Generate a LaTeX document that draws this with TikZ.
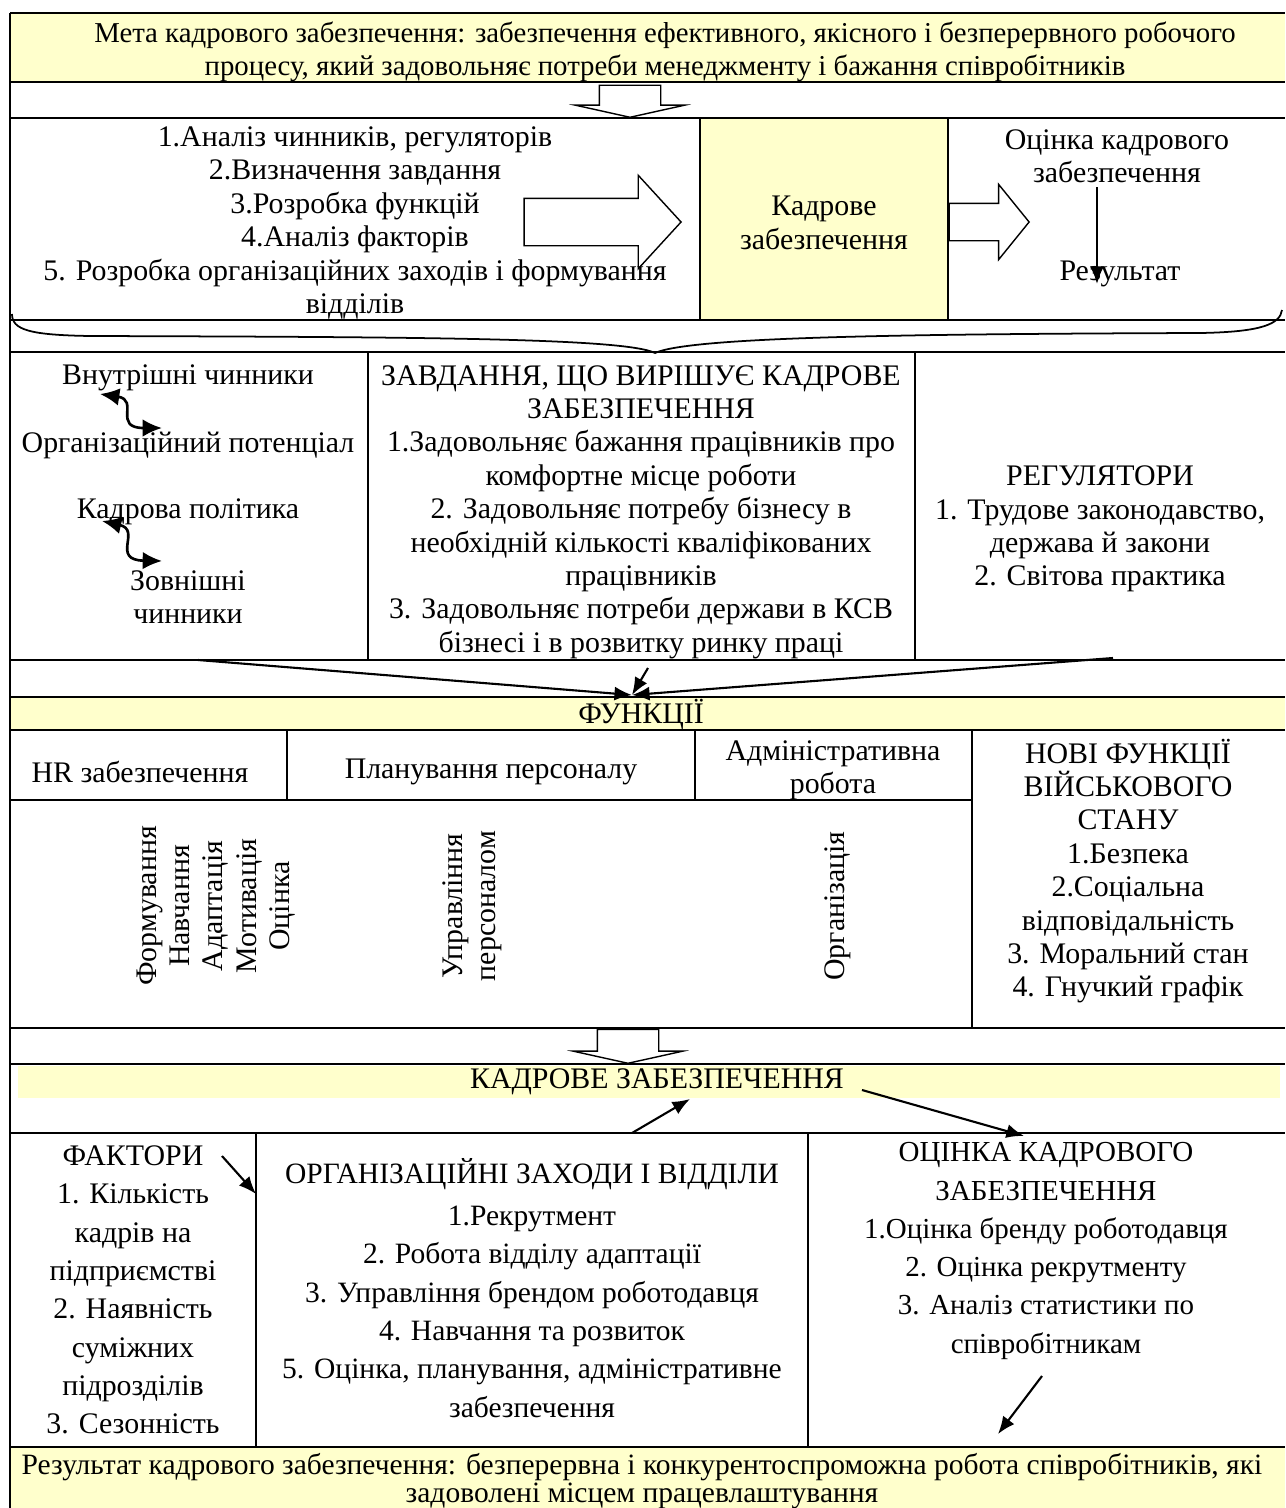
\documentclass[tikz,border=0pt]{standalone}
\usepackage{fontspec}
\setmainfont{Liberation Serif}
\usetikzlibrary{arrows.meta,shapes.arrows,positioning}
\definecolor{paleyellow}{HTML}{FFFFCC}

\begin{document}
\begin{tikzpicture}[x=0.02cm,y=-0.02cm]
    \tikzset{
      cell/.style={align=center,inner sep=0pt,font=\fontsize{17}{19}\selectfont},
      widecell/.style={align=center,inner sep=0pt,font=\fontsize{16.8}{21.8}\selectfont},
      frame/.style={line width=1.5pt},
      link/.style={line width=1.2pt,-{Latex[length=10pt,width=8pt]}},
      twolink/.style={line width=1.5pt,{Latex[length=11pt,width=10pt]}-{Latex[length=11pt,width=10pt]}},
      hollow/.style={single arrow,draw,fill=white,line width=0.8pt,
        inner xsep=0pt,single arrow head indent=0pt}
    }
    \useasboundingbox (0,0) rectangle (1285,1508);

    %Yellow fills
    \fill[paleyellow] (10,13) rectangle (1285,82);
    \fill[paleyellow] (700,118) rectangle (948,320);
    \fill[paleyellow] (10,697) rectangle (1285,730);
    \fill[paleyellow] (18,1066) rectangle (1280,1098);
    \fill[paleyellow] (10,1447) rectangle (1285,1508);

    %Horizontal rules
    \foreach \y in {13,82,118,320,352,660,697,730,1028,1064,1133,1447}
      \draw[frame] (10,\y) -- (1285,\y);
    \draw[frame] (10,800) -- (972,800);

    %Vertical rules
    \draw[frame] (10,13) -- (10,1508);
    \draw[frame] (700,118) -- (700,320);
    \draw[frame] (948,118) -- (948,320);
    \draw[frame] (368,352) -- (368,660);
    \draw[frame] (915,352) -- (915,660);
    \draw[frame] (287,730) -- (287,800);
    \draw[frame] (695,730) -- (695,800);
    \draw[frame] (972,730) -- (972,1028);
    \draw[frame] (256,1133) -- (256,1447);
    \draw[frame] (808,1133) -- (808,1447);

    %Goal row
    \node[cell,font=\fontsize{16.4}{19}\selectfont] (goal) at (665,52)
      {Мета кадрового забезпечення: забезпечення ефективного, якісного і безперервного робочого\\
       процесу, який задовольняє потреби менеджменту і бажання співробітників};

    %Hollow arrows
    \node[hollow,rotate=-90,anchor=tip,minimum height=0.64cm,inner ysep=0.6cm,
      single arrow head extend=0.48cm,single arrow tip angle=155] (downtop) at (630,118) {};
    \node[hollow,anchor=tip,minimum height=3.14cm,inner ysep=0.46cm,
      single arrow head extend=0.46cm,single arrow tip angle=95] (bigright) at (682,222) {};
    \node[hollow,anchor=tip,minimum height=1.6cm,inner ysep=0.36cm,
      single arrow head extend=0.38cm,single arrow tip angle=102] (smallright) at (1030,222) {};
    \node[hollow,rotate=-90,anchor=tip,minimum height=0.68cm,inner ysep=0.6cm,
      single arrow head extend=0.48cm,single arrow tip angle=155] (downlow) at (628,1064) {};

    %Stages row
    \node[cell] (steps) at (355,223)
      {1.Аналіз чинників, регуляторів\\2.Визначення завдання\\3.Розробка функцій\\
       4.Аналіз факторів\\5. Розробка організаційних заходів і формування\\відділів};
    \node[cell] (hrcore) at (824,223) {Кадрове\\забезпечення};
    \node[cell] (assess) at (1117,156) {Оцінка кадрового\\забезпечення};
    \node[cell] (outcome) at (1120,274) {Результат};
    \coordinate (assessfrom) at (1097,187);
    \coordinate (assessto) at (1097,284);
    \draw[link] (assessfrom) -- (assessto);

    %Brace
    \coordinate (braceleft) at (12,314);
    \coordinate (bracetip) at (655,353);
    \coordinate (braceright) at (1282,310);
    \draw[line width=1pt] (braceleft) .. controls (12,330) and (30,335) .. (90,336)
      .. controls (420,337) and (625,338) .. (bracetip)
      .. controls (690,337) and (900,334) .. (1200,333)
      .. controls (1262,332) and (1280,324) .. (braceright);

    %Factors, tasks, regulators
    \node[cell] (inner) at (188,378) {Внутрішні чинники};
    \node[cell] (potential) at (188,445) {Організаційний потенціал};
    \node[cell] (policy) at (188,512) {Кадрова політика};
    \node[cell] (external) at (188,597) {Зовнішні\\чинники};
    \coordinate (wavyA1) at (100,394);
    \coordinate (wavyA2) at (162,428);
    \coordinate (wavyB1) at (102,521);
    \coordinate (wavyB2) at (162,561);
    \draw[twolink] (wavyA1) .. controls (140,400) and (112,428) .. (wavyA2);
    \draw[twolink] (wavyB1) .. controls (142,530) and (110,560) .. (wavyB2);

    \node[cell] (tasks) at (641,512)
      {ЗАВДАННЯ, ЩО ВИРІШУЄ КАДРОВЕ\\ЗАБЕЗПЕЧЕННЯ\\1.Задовольняє бажання працівників про\\
       комфортне місце роботи\\2. Задовольняє потребу бізнесу в\\
       необхідній кількості кваліфікованих\\працівників\\
       3. Задовольняє потреби держави в КСВ\\бізнесі і в розвитку ринку праці};
    \node[cell] (regulators) at (1100,529)
      {РЕГУЛЯТОРИ\\1. Трудове законодавство,\\держава й закони\\2. Світова практика};

    %Converging arrows
    \node[cell] (functions) at (641,715) {ФУНКЦІЇ};
    \coordinate (fromleft) at (198,660);
    \coordinate (fromright) at (1113,658);
    \coordinate (frommid) at (648,668);
    \coordinate (tofunc) at (632,695);
    \draw[link] (fromleft) -- (tofunc);
    \draw[link] (fromright) -- (tofunc);
    \draw[link] (frommid) -- (tofunc);

    %Functions
    \node[cell] (hrsupply) at (140,772) {HR забезпечення};
    \node[cell] (planning) at (491,772) {Планування персоналу};
    \node[cell] (admin) at (833,770) {Адміністративна\\робота};
    \node[cell] (newfunc) at (1128,871)
      {НОВІ ФУНКЦІЇ\\ВІЙСЬКОВОГО\\СТАНУ\\1.Безпека\\2.Соціальна\\відповідальність\\
       3. Моральний стан\\4. Гнучкий графік};
    \node[cell,rotate=90] (hrlist) at (216,906)
      {Формування\\Навчання\\Адаптація\\Мотивація\\Оцінка};
    \node[cell,rotate=90] (manage) at (472,906) {Управління\\персоналом};
    \node[cell,rotate=90] (orgn) at (838,906) {Організація};

    %Staffing band
    \node[cell] (hrband) at (657,1082) {КАДРОВЕ ЗАБЕЗПЕЧЕННЯ};
    \coordinate (bandfrom) at (632,1133);
    \coordinate (bandto) at (690,1099);
    \coordinate (evalfrom) at (862,1090);
    \coordinate (evalto) at (1024,1136);
    \draw[link] (bandfrom) -- (bandto);
    \draw[link] (evalfrom) -- (evalto);

    %Bottom cells
    \node[widecell,font=\fontsize{17}{21.8}\selectfont] (factors) at (133,1290)
      {ФАКТОРИ\\1. Кількість\\кадрів на\\підприємстві\\2. Наявність\\суміжних\\підрозділів\\3. Сезонність};
    \node[widecell] (measures) at (532,1288)
      {ОРГАНІЗАЦІЙНІ ЗАХОДИ І ВІДДІЛИ\\[2pt]1.Рекрутмент\\2. Робота відділу адаптації\\
       3. Управління брендом роботодавця\\4. Навчання та розвиток\\
       5. Оцінка, планування, адміністративне\\забезпечення};
    \node[widecell,font=\fontsize{16.5}{21.8}\selectfont] (evaluation) at (1046,1251)
      {ОЦІНКА КАДРОВОГО\\ЗАБЕЗПЕЧЕННЯ\\1.Оцінка бренду роботодавця\\2. Оцінка рекрутменту\\
       3. Аналіз статистики по\\співробітникам};
    \coordinate (factfrom) at (222,1156);
    \coordinate (factto) at (256,1194);
    \coordinate (resfrom) at (1042,1376);
    \coordinate (resto) at (998,1434);
    \draw[link] (factfrom) -- (factto);
    \draw[link] (resfrom) -- (resto);

    %Result row
    \node[cell,font=\fontsize{16.8}{15.5}\selectfont] (result) at (642,1481)
      {Результат кадрового забезпечення: безперервна і конкурентоспроможна робота співробітників, які\\
       задоволені місцем працевлаштування};
\end{tikzpicture}
\end{document}
